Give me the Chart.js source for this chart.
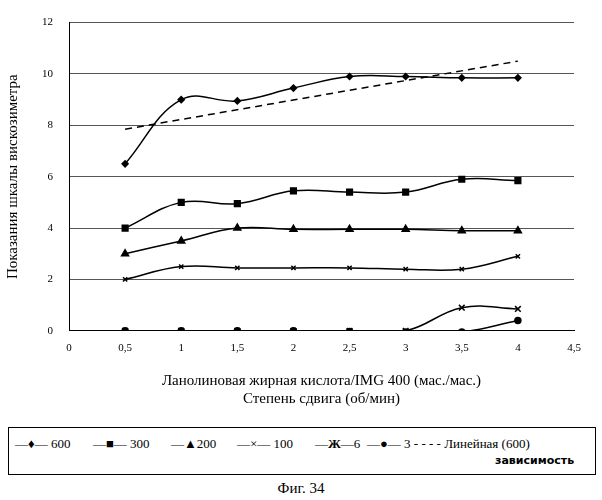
<!DOCTYPE html>
<html><head><meta charset="utf-8">
<script src="https://cdn.jsdelivr.net/npm/chart.js@4"></script>
<style>
body{margin:0;background:#fff;font-family:"Liberation Serif",serif;}
#wrap{position:relative;width:602px;height:412px;}
#legend{position:absolute;left:8px;top:427px;width:588px;height:48px;border:1px solid #000;box-sizing:border-box;font-size:13px;}
#legend span{position:absolute;top:8px;white-space:nowrap;}
#cap{position:absolute;top:480px;width:602px;text-align:center;font-size:15px;}
</style></head><body>
<div id="wrap"><canvas id="c" width="602" height="412"></canvas></div>
<div id="legend">
<span style="left:6px">—♦— 600</span>
<span style="left:84px">—■— 300</span>
<span style="left:162px">—▲200</span>
<span style="left:228px">—×— 100</span>
<span style="left:306px">—<b>Ж</b>—6</span>
<span style="left:358px">—●— 3 - - - - Линейная (600)</span>
<span style="left:486px;top:26px;font-weight:bold;font-size:11px;font-family:'DejaVu Sans'">зависимость</span>
</div>
<div id="cap">Фиг. 34</div>
<script>
const xs = [0.5, 1, 1.5, 2, 2.5, 3, 3.5, 4];
const s600 = [6.5, 9.0, 8.95, 9.45, 9.9, 9.9, 9.85, 9.85];
const s300 = [4.0, 5.0, 4.95, 5.45, 5.4, 5.4, 5.9, 5.85];
const s200 = [3.0, 3.5, 4.0, 3.95, 3.95, 3.95, 3.9, 3.9];
const s100 = [2.0, 2.5, 2.45, 2.45, 2.45, 2.4, 2.4, 2.9];
const s6 = [0, 0, 0, 0, 0, 0, 0.9, 0.85];
const s3 = [0, 0, 0, 0, -0.03, -0.05, -0.05, 0.4];
const trendX = [0.5, 4];
const trendY = [7.85, 10.5];

const pts = (ys, xv) => ys.map((y, i) => ({x: (xv || xs)[i], y}));
const ds = (data, style, r) => ({data: pts(data), borderColor: '#000', backgroundColor: '#000', borderWidth: 1.5,
  tension: 0.4, pointStyle: style, pointRadius: r, pointBorderWidth: 1.5});

new Chart(document.getElementById('c'), {
  type: 'line',
  data: {datasets: [
    ds(s600, 'rectRot', 3), ds(s300, 'rect', 4), ds(s200, 'triangle', 4),
    ds(s100, 'crossRot', 3), ds(s6, 'crossRot', 4), ds(s3, 'circle', 3),
    {data: pts(trendY, trendX), borderColor: '#000', borderWidth: 1.5, borderDash: [7, 5], pointRadius: 0, tension: 0}
  ]},
  options: {
    responsive: false, animation: false,
    layout: {padding: {right: 28, top: 4}},
    plugins: {legend: {display: false}, tooltip: {enabled: false}},
    scales: {
      x: {type: 'linear', min: 0, max: 4.5,
        ticks: {stepSize: 0.5, color: '#000', font: {family: 'Liberation Serif', size: 11}, callback: v => String(v).replace('.', ',')},
        grid: {display: false}, border: {color: '#000'},
        title: {display: true, text: ['Ланолиновая жирная кислота/IMG 400 (мас./мас.)', 'Степень сдвига (об/мин)'],
          color: '#000', font: {family: 'Liberation Serif', size: 15}, padding: {top: 14}}},
      y: {min: 0, max: 12,
        ticks: {stepSize: 2, padding: 16, color: '#000', font: {family: 'Liberation Serif', size: 11}},
        grid: {color: '#555', borderDash: [4, 2], drawTicks: false}, border: {color: '#000'},
        title: {display: true, text: 'Показания шкалы вискозиметра', color: '#000', font: {family: 'Liberation Serif', size: 15}}}
    }
  }
});
</script>
</body></html>
